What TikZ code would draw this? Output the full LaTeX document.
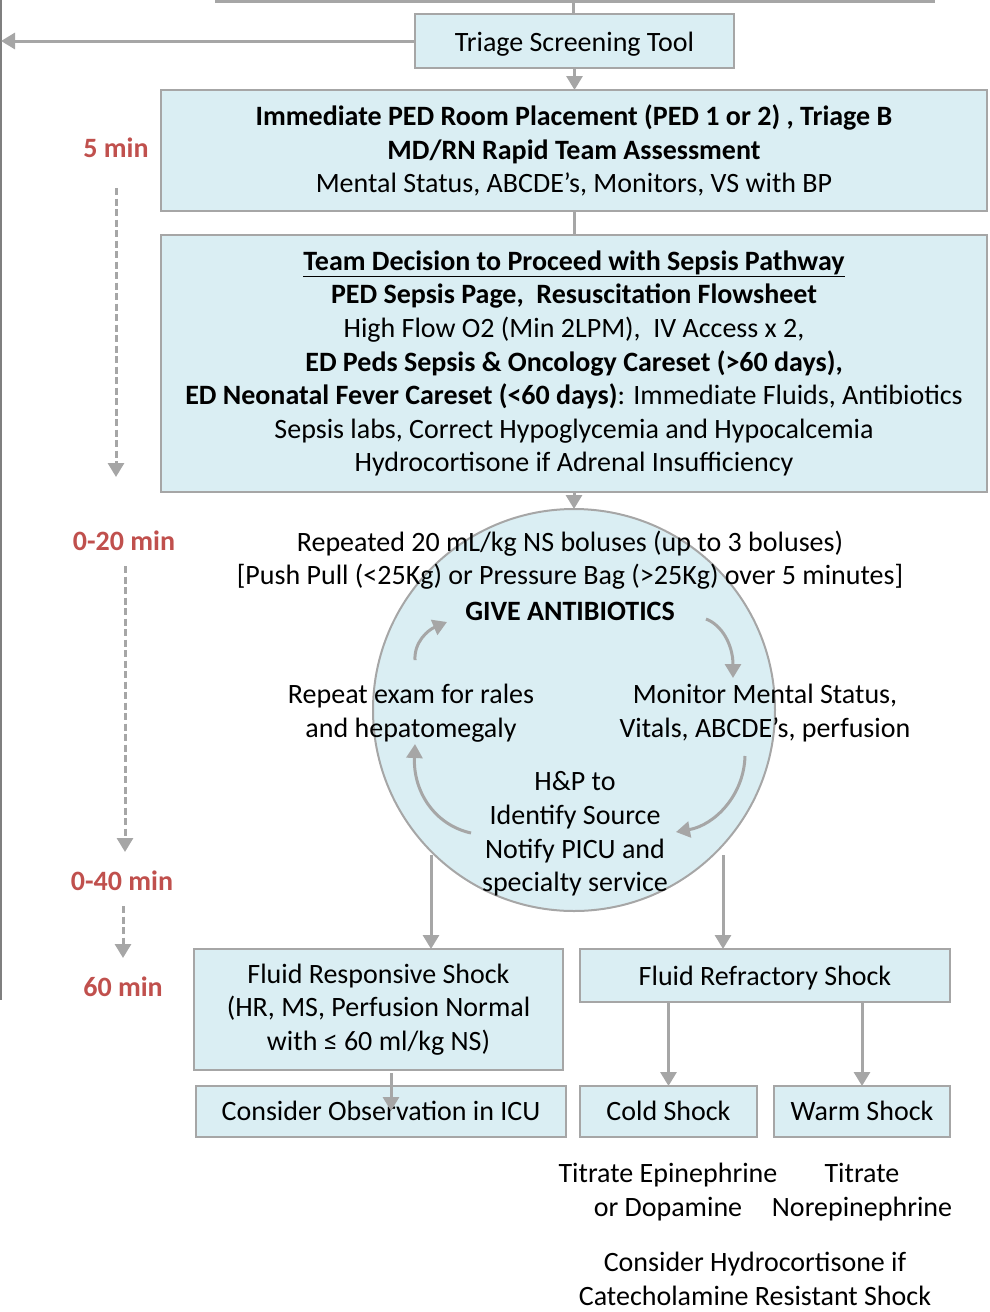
\documentclass[tikz,border=0pt]{standalone}
\usepackage{fontspec}
\setmainfont{Carlito}
\usetikzlibrary{arrows.meta}
\definecolor{boxfill}{HTML}{DAEEF3}
\definecolor{boxline}{HTML}{A6A6A6}
\definecolor{arr}{HTML}{A6A6A6}
\definecolor{edge}{HTML}{7F7F7F}
\definecolor{tred}{HTML}{C0504D}
\begin{document}
\begin{tikzpicture}[x=1pt,y=-1pt,
  every node/.style={font=\fontsize{28}{33.6}\selectfont, inner sep=0pt, outer sep=0pt},
  box/.style={draw=boxline, line width=2pt, fill=boxfill, align=center},
  lowtext/.style={text height=24, text depth=4},
  midtext/.style={text height=22, text depth=5},
  arrowline/.style={draw=arr, line width=3pt, -{Triangle[width=16pt,length=14pt]}},
  plainline/.style={draw=arr, line width=3pt},
  curvearrow/.style={draw=arr, line width=3pt, -{Triangle[width=16pt,length=14pt]}},
  dasharrow/.style={draw=arr, line width=3pt, dash pattern=on 7pt off 3.5pt, -{Triangle[width=16pt,length=14pt]}},
  timelbl/.style={text=tred, font=\fontsize{28}{33.6}\selectfont\bfseries},
  txt/.style={align=center}]
\useasboundingbox (0,0) rectangle (990,1312);

% left edge line
\coordinate (le1) at (1,0);
\coordinate (le2) at (1,1000);
\draw[edge, line width=1.5pt] (le1) -- (le2);

% top line
\coordinate (tl) at (215,1);
\coordinate (tr) at (935,1);
\coordinate (tm) at (573,1);
\draw[plainline] (tl) -- (tr);

% boxes
\node[box, lowtext, minimum width=319, minimum height=54] (triage) at (574.5,41) {Triage Screening Tool};
\node[box, minimum width=826, minimum height=121] (box1) at (574,150.5)
  {\textbf{Immediate PED Room Placement (PED 1 or 2) , Triage B}\\
   \textbf{MD/RN Rapid Team Assessment}\\
   Mental Status, ABCDE's, Monitors, VS with BP};
\node[box, minimum width=826, minimum height=257] (box2) at (574,363.5)
  {\textbf{\underline{Team Decision to Proceed with Sepsis Pathway}}\\
   \textbf{PED Sepsis Page,\ \ Resuscitation Flowsheet}\\
   High Flow O2 (Min 2LPM),\ \ IV Access x 2,\\
   \textbf{ED Peds Sepsis \& Oncology Careset (>60 days),}\\
   \textbf{ED Neonatal Fever Careset (<60 days)}: Immediate Fluids, Antibiotics\\
   Sepsis labs, Correct Hypoglycemia and Hypocalcemia\\
   Hydrocortisone if Adrenal Insufficiency};
\node[circle, draw=boxline, line width=2pt, fill=boxfill, minimum size=402] (circ) at (574,710) {};

\node[box, minimum width=369, minimum height=121] (resp) at (378.5,1009.5)
  {Fluid Responsive Shock\\(HR, MS, Perfusion Normal\\with ≤ 60 ml/kg NS)};
\node[box, lowtext, minimum width=370, minimum height=53] (refr) at (765,975.5) {Fluid Refractory Shock};
\node[box, midtext, minimum width=370, minimum height=51] (obs) at (381,1111.5) {Consider Observation in ICU};
\node[box, midtext, minimum width=177, minimum height=51] (cold) at (668.5,1111.5) {Cold Shock};
\node[box, midtext, minimum width=176, minimum height=51] (warm) at (862,1111.5) {Warm Shock};

% circle texts
\node[txt] (t1) at (570,544) {Repeated 20 mL/kg NS boluses (up to 3 boluses)};
\node[txt] (t2) at (570,577) {[Push Pull (<25Kg) or Pressure Bag (>25Kg) over 5 minutes]};
\node[txt] (t3) at (570,611) {\textbf{GIVE ANTIBIOTICS}};
\node[txt] (tl2) at (411,713) {Repeat exam for rales\\and hepatomegaly};
\node[txt] (tr2) at (765,713) {Monitor Mental Status,\\Vitals, ABCDE’s, perfusion};
\node[txt] (tb) at (575,834) {H\&P to\\Identify Source\\Notify PICU and\\specialty service};

% bottom texts
\node[txt] (epi) at (668,1192) {Titrate Epinephrine\\or Dopamine};
\node[txt] (nor) at (862,1192) {Titrate\\Norepinephrine};
\node[txt] (hyd) at (755,1279) {Consider Hydrocortisone if\\Catecholamine Resistant Shock};

% time labels
\node[timelbl] (m5) at (116,148) {5 min};
\node[timelbl] (m20) at (124,541) {0-20 min};
\node[timelbl] (m40) at (122,881) {0-40 min};
\node[timelbl] (m60) at (123,987) {60 min};
\coordinate (d1a) at (116,188); \coordinate (d1b) at (116,477);
\coordinate (d2a) at (125,566); \coordinate (d2b) at (125,852);
\coordinate (d3a) at (123,906); \coordinate (d3b) at (123,958);
\draw[dasharrow] (d1a) -- (d1b);
\draw[dasharrow] (d2a) -- (d2b);
\draw[dasharrow] (d3a) -- (d3b);

% connectors
\coordinate (leftend) at (1,41);
\draw[plainline] (tm) -- (tm |- triage.north);
\draw[arrowline] (triage.west) -- (leftend);
\draw[arrowline] (triage.south) -- (triage.south |- box1.north);
\draw[plainline] (box1.south) -- (box2.north);
\draw[arrowline] (box2.south) -- (circ.north);
\coordinate (c1) at (431,855);
\coordinate (c2) at (723,855);
\draw[arrowline] (c1) -- (c1 |- resp.north);
\draw[arrowline] (c2) -- (c2 |- refr.north);
\draw[arrowline] (cold.north |- refr.south) -- (cold.north);
\draw[arrowline] (warm.north |- refr.south) -- (warm.north);
\coordinate (o1) at (391,1073);
\coordinate (o2) at (391,1111);
\draw[arrowline] (o1) -- (o2);

% cycle arrows in circle
\coordinate (a1s) at (415,660); \coordinate (a1e) at (447,622);
\coordinate (a2s) at (706,619); \coordinate (a2e) at (733,678);
\coordinate (a3s) at (745,756); \coordinate (a3e) at (676,832);
\coordinate (a4s) at (471,833); \coordinate (a4e) at (415,744);
\draw[curvearrow] (a1s) .. controls (414,642) and (428,630) .. (a1e);
\draw[curvearrow] (a2s) .. controls (722,625) and (733,645) .. (a2e);
\draw[curvearrow] (a3s) .. controls (744,795) and (715,825) .. (a3e);
\draw[curvearrow] (a4s) .. controls (435,825) and (413,792) .. (a4e);
\end{tikzpicture}
\end{document}
